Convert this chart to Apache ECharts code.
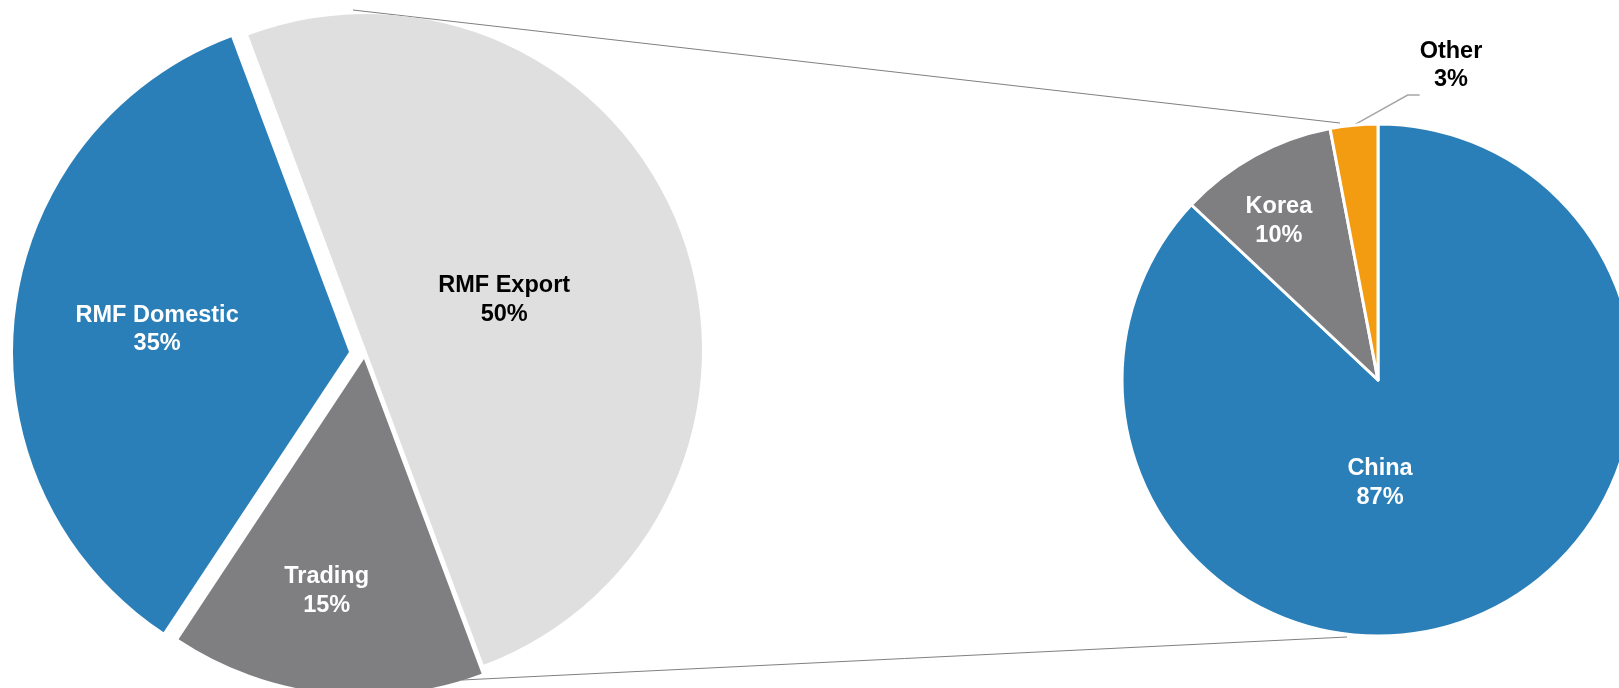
<!DOCTYPE html>
<html>
<head>
<meta charset="utf-8">
<script src="https://cdn.jsdelivr.net/npm/echarts@6/dist/echarts.min.js"></script>
<style>
html,body{margin:0;padding:0;background:#fff;}
#chart{width:1619px;height:688px;}
</style>
</head>
<body>
<div id="chart"></div>
<script>
// ---- data ----
const leftCategories = ['RMF Export', 'Trading', 'RMF Domestic'];
const leftValues = [50, 15, 35];
const rightCategories = ['China', 'Korea', 'Other'];
const rightValues = [87, 10, 3];

// ---- styles ----
const leftColors = ['#DFDFDF', '#7F7F82', '#2A7FB8'];
const leftLabelColors = ['#000000', '#ffffff', '#ffffff'];
const leftCenters = [[366, 350], [364, 359], [349, 352]]; // exploded slices
const leftLabelShift = [[-22, 10], [-18, 62], [-22, -3]];
const rightColors = ['#2A7FB8', '#7F7F82', '#F39C12'];
const rightLabelColors = ['#ffffff', '#ffffff', '#000000'];
const rightLabelShift = [[-50, -17], [-36, -44], null];

const labelFont = {
  fontFamily: 'Liberation Sans, Arial, sans-serif',
  fontWeight: 'bold',
  fontSize: 23.5,
  lineHeight: 28.5
};

const chart = echarts.init(document.getElementById('chart'));

const leftSeries = leftCategories.map((own, i) => ({
  type: 'pie',
  center: leftCenters[i],
  radius: 336,
  startAngle: 110.5,
  clockwise: true,
  avoidLabelOverlap: false,
  silent: true,
  label: Object.assign({ show: true, position: 'inside', formatter: '{b}\n{c}%' }, labelFont),
  labelLine: { show: false },
  labelLayout: function () { return { dx: leftLabelShift[i][0], dy: leftLabelShift[i][1] }; },
  data: leftCategories.map((name, j) => ({
    name: name,
    value: leftValues[j],
    itemStyle: { color: j === i ? leftColors[j] : 'rgba(0,0,0,0)', borderWidth: 0 },
    label: { show: j === i, color: leftLabelColors[j] }
  }))
}));

const rightSeries = {
  type: 'pie',
  center: [1378, 380],
  radius: 256,
  startAngle: 90,
  clockwise: true,
  avoidLabelOverlap: false,
  silent: true,
  itemStyle: { borderColor: '#ffffff', borderWidth: 3 },
  label: Object.assign({ show: true, position: 'inside', formatter: '{b}\n{c}%' }, labelFont),
  labelLine: { show: false },
  labelLayout: function (p) {
    const s = rightLabelShift[p.dataIndex];
    if (s) return { dx: s[0], dy: s[1] };
    return { x: 1451, y: 37, align: 'center', verticalAlign: 'top' };
  },
  data: rightCategories.map((name, j) => {
    const item = {
      name: name,
      value: rightValues[j],
      itemStyle: { color: rightColors[j] },
      label: { color: rightLabelColors[j] }
    };
    if (j === 2) {
      item.label = {
        color: rightLabelColors[j],
        position: 'outside',
        padding: [0, 0, 59, 0],
        backgroundColor: 'rgba(255,255,255,0)'
      };
      item.labelLine = {
        show: true, length: 10, length2: 12, smooth: false,
        lineStyle: { color: '#a6a6a6', width: 1.5 }
      };
    }
    return item;
  })
};

chart.setOption({
  animation: false,
  backgroundColor: '#ffffff',
  graphic: [
    { type: 'line', z: 0, shape: { x1: 353, y1: 10, x2: 1340, y2: 123 }, style: { stroke: '#808080', lineWidth: 1 } },
    { type: 'line', z: 0, shape: { x1: 462, y1: 680, x2: 1347, y2: 637 }, style: { stroke: '#808080', lineWidth: 1 } }
  ],
  series: leftSeries.concat([rightSeries])
});
</script>
</body>
</html>
